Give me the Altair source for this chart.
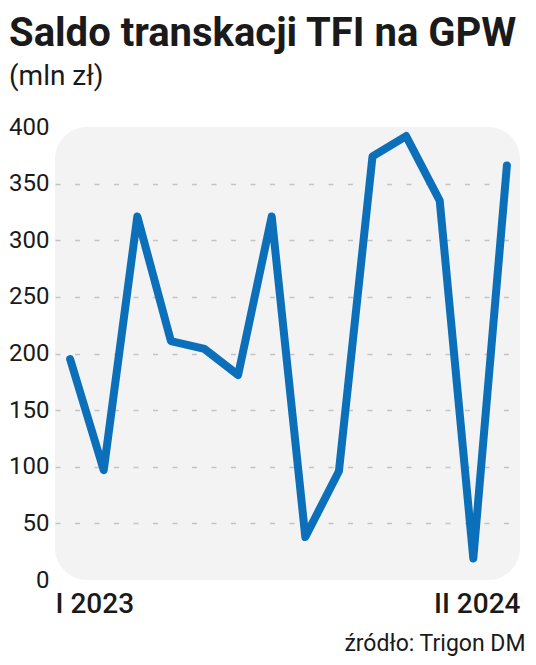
import altair as alt
import pandas as pd

months = ["I 2023", "II 2023", "III 2023", "IV 2023", "V 2023", "VI 2023", "VII 2023",
          "VIII 2023", "IX 2023", "X 2023", "XI 2023", "XII 2023", "I 2024", "II 2024"]
values = [195, 97, 321, 211, 204, 181, 321, 38, 96, 374, 392, 335, 19, 366]
y_ticks = [0, 50, 100, 150, 200, 250, 300, 350, 400]

df = pd.DataFrame({"idx": list(range(len(months))), "month": months, "value": values})

FONT = "Roboto"

line = alt.Chart(df).mark_line(
    color="#0b70b9", strokeWidth=8, strokeCap="round", strokeJoin="round"
).encode(
    x=alt.X("idx:Q",
            scale=alt.Scale(domain=[-0.45, 13.39], nice=False, zero=False),
            axis=alt.Axis(
                values=[-0.45, 13.39],
                labelExpr="datum.value < 5 ? 'I 2023' : 'II 2024'",
                labelFlush=True, grid=False, ticks=False, domain=False,
                labelFont=FONT, labelFontSize=28, labelFontWeight=500,
                labelColor="#1a1a1a", labelPadding=10,
                title="źródło: Trigon DM", titleFont=FONT, titleFontSize=23,
                titleFontWeight="normal", titleColor="#1a1a1a",
                titleAnchor="end", titleAlign="right", titleBaseline="middle",
                titleX=470, titleY=63,
            )),
    y=alt.Y("value:Q",
            scale=alt.Scale(domain=[0, 400], nice=False),
            axis=alt.Axis(
                values=y_ticks, title=None, ticks=False, domain=False,
                labelFont=FONT, labelFontSize=24, labelColor="#1a1a1a",
                labelPadding=6,
                grid=True, gridColor="#c4c4c4", gridWidth=1.5,
                gridDash=[5, 14.5],
                gridOpacity=alt.condition("datum.value == 0 || datum.value == 400",
                                          alt.value(0), alt.value(1)),
            )),
)

chart = line.properties(
    width=465, height=453,
    autosize=alt.AutoSizeParams(type="none"),
    padding={"left": 47, "top": 119, "right": 8, "bottom": 77},
    title=alt.TitleParams(
        text="Saldo transkacji TFI na GPW",
        subtitle="(mln zł)",
        anchor="start", frame="group", dx=-46,
        font=FONT, fontSize=40, fontWeight="bold", color="#1a1a1a",
        subtitleFont=FONT, subtitleFontSize=28, subtitleColor="#1a1a1a",
        subtitlePadding=9, offset=24,
    ),
).configure_view(
    fill="#f3f3f3", stroke=None, cornerRadius=32
)

chart.save("out.html", embed_options={"renderer": "svg", "actions": False})
